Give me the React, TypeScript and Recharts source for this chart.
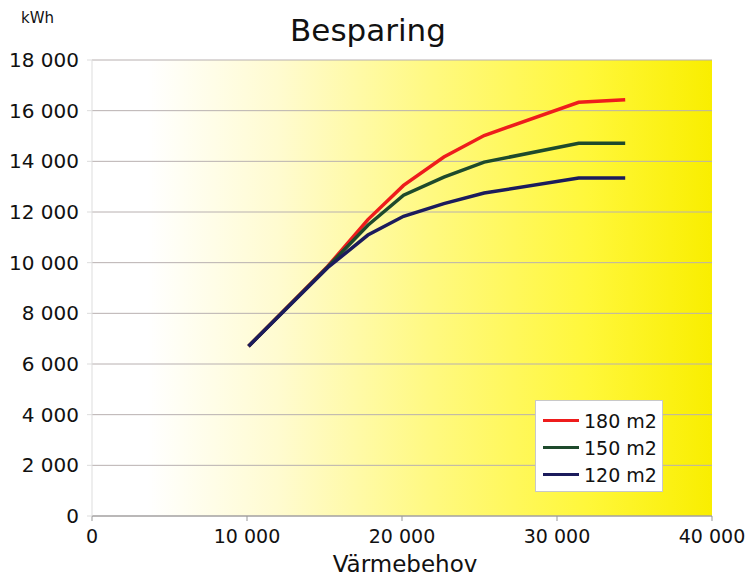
import React from 'react';
import { LineChart, Line, XAxis, YAxis, CartesianGrid } from 'recharts';

const heatDemand = [10100, 15200, 17800, 20100, 22700, 25300, 31400, 34400];
const saving180 = [6700, 9850, 11700, 13050, 14170, 15020, 16330, 16430];
const saving150 = [6700, 9830, 11480, 12660, 13380, 13970, 14710, 14710];
const saving120 = [6700, 9800, 11090, 11830, 12330, 12750, 13340, 13340];
const xTicks = [0, 10000, 20000, 30000, 40000];
const yTicks = [0, 2000, 4000, 6000, 8000, 10000, 12000, 14000, 16000, 18000];

const seriesNames = ['180 m2', '150 m2', '120 m2'];
const seriesColors = ['#ee1c1c', '#1e4a2c', '#1b1b5c'];

const data = heatDemand.map((x, i) => ({
  x,
  s180: saving180[i],
  s150: saving150[i],
  s120: saving120[i],
}));

const fmt = (v: number) => {
  if (v === 0) return '0';
  const s = String(v);
  return s.slice(0, s.length - 3) + ' ' + s.slice(s.length - 3);
};

const FONT = 'DejaVu Sans, sans-serif';

const LegendBox = () => (
  <div
    style={{
      position: 'absolute',
      left: 535,
      top: 400,
      background: '#ffffff',
      border: '1px solid #c8c8c8',
      width: 128,
      height: 92,
      boxSizing: 'border-box',
      padding: '6px 0 0 7px',
      fontFamily: FONT,
      fontSize: 19,
      color: '#111',
      zIndex: 2,
    }}
  >
    {seriesNames.map((n, i) => (
      <div key={n} style={{ display: 'flex', alignItems: 'center', height: 27 }}>
        <div style={{ width: 36, height: 3, background: seriesColors[i], marginRight: 5 }} />
        <span>{n}</span>
      </div>
    ))}
  </div>
);

export default function App() {
  return (
    <div style={{ position: 'absolute', left: 0, top: 0, width: 746, height: 577, background: '#fff' }}>
      <div
        style={{
          position: 'absolute',
          left: 0,
          width: 736,
          top: 12,
          textAlign: 'center',
          fontFamily: FONT,
          fontSize: 31,
          color: '#111',
        }}
      >
        Besparing
      </div>
      <div style={{ position: 'absolute', left: 21, top: 9, fontFamily: FONT, fontSize: 15, color: '#111' }}>kWh</div>
      <div
        style={{
          position: 'absolute',
          left: 0,
          width: 810,
          top: 551,
          textAlign: 'center',
          fontFamily: FONT,
          fontSize: 23,
          lineHeight: '26px',
          color: '#111',
        }}
      >
        Värmebehov
      </div>
      <div style={{ position: 'absolute', left: 0, top: 0 }}>
        <LineChart width={746} height={577} data={data} margin={{ top: 60, right: 34, bottom: 21, left: 12 }}>
          <defs>
            <linearGradient id="bg" x1="0" y1="0" x2="1" y2="0">
              <stop offset="0%" stopColor="#ffffff" />
              <stop offset="9%" stopColor="#ffffff" />
              <stop offset="30%" stopColor="#fffbd0" />
              <stop offset="55%" stopColor="#fff980" />
              <stop offset="80%" stopColor="#fff73a" />
              <stop offset="100%" stopColor="#f9ee00" />
            </linearGradient>
          </defs>
          <CartesianGrid vertical={false} stroke="#b8b0b0" fill="url(#bg)" fillOpacity={1} />
          <XAxis
            type="number"
            dataKey="x"
            domain={[0, 40000]}
            ticks={xTicks}
            tickFormatter={fmt}
            height={40}
            tickSize={5}
            tickMargin={9}
            stroke="#999"
            tick={{ fontFamily: FONT, fontSize: 19, fill: '#111' }}
            interval={0}
          />
          <YAxis
            type="number"
            domain={[0, 18000]}
            ticks={yTicks}
            tickFormatter={fmt}
            width={80}
            tickSize={5}
            tickMargin={8}
            stroke="#ddd"
            tick={{ fontFamily: FONT, fontSize: 20, fill: '#111' }}
            interval={0}
          />
          <Line dataKey="s180" name={seriesNames[0]} stroke={seriesColors[0]} strokeWidth={3.5} dot={false} isAnimationActive={false} />
          <Line dataKey="s150" name={seriesNames[1]} stroke={seriesColors[1]} strokeWidth={3.5} dot={false} isAnimationActive={false} />
          <Line dataKey="s120" name={seriesNames[2]} stroke={seriesColors[2]} strokeWidth={3.5} dot={false} isAnimationActive={false} />
        </LineChart>
      </div>
      <LegendBox />
    </div>
  );
}
